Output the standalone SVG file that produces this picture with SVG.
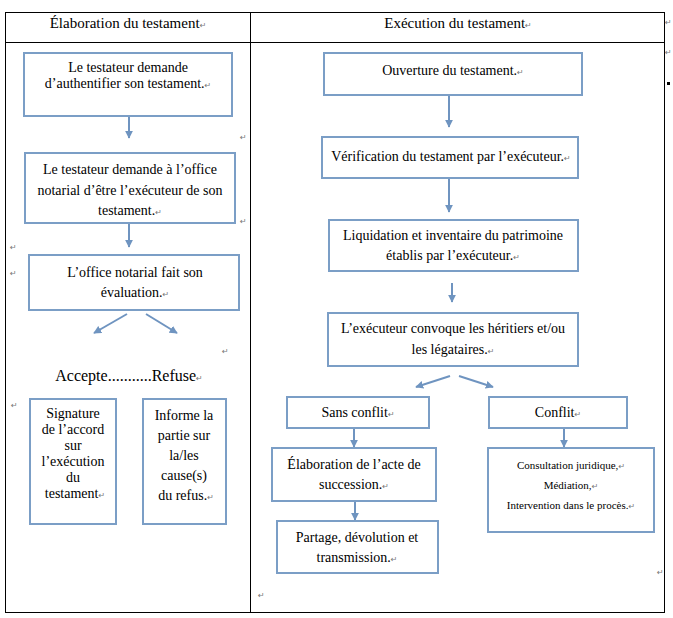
<svg xmlns="http://www.w3.org/2000/svg" width="673" height="618" viewBox="0 0 673 618">
<defs>
<marker id="ah" viewBox="0 0 10 10" refX="9" refY="5" markerWidth="4" markerHeight="4" orient="auto" markerUnits="strokeWidth">
<path d="M0,0 L10,5 L0,10 z" fill="#6f94c0"/>
</marker>
<style>
.t{font-size:14px;fill:#000;text-anchor:middle}
.h{font-size:15px}
.s{font-size:11px}
.b{fill:#fff;stroke:#7b9ec6;stroke-width:2}
.c{stroke:#6f94c0;stroke-width:2;fill:none;marker-end:url(#ah)}
.pm{font-family:"DejaVu Sans",sans-serif;font-size:8px;fill:#777}
.grid{fill:none;stroke:#000;stroke-width:1}
</style>
</defs>
<rect width="673" height="618" fill="#fff"/>
<g font-family="'Liberation Serif', 'Times New Roman', 'DejaVu Serif', serif">
<g id="table">
<rect class="grid" x="5.5" y="12.5" width="659" height="600"/>
<line class="grid" x1="5" y1="42.5" x2="665" y2="42.5"/>
<line class="grid" x1="250.5" y1="12" x2="250.5" y2="613"/>
<text class="t h" x="128" y="28">Élaboration du testament<tspan class="pm">↵</tspan></text>
<text class="t h" x="458" y="28">Exécution du testament<tspan class="pm">↵</tspan></text>
</g>
<g id="marks">
<text class="pm" x="665" y="25">↵</text>
<text class="pm" x="665" y="55">↵</text>
<rect x="667" y="82" width="3" height="3" fill="#000"/>
<text class="pm" x="240" y="140">↵</text>
<text class="pm" x="240" y="224">↵</text>
<text class="pm" x="10" y="250">↵</text>
<text class="pm" x="10" y="276">↵</text>
<text class="pm" x="222" y="354">↵</text>
<text class="pm" x="11" y="408">↵</text>
<text class="pm" x="657" y="575">↵</text>
<text class="pm" x="258" y="598">↵</text>
</g>
<g id="connectors">
<line class="c" x1="129" y1="116" x2="129" y2="138"/>
<line class="c" x1="129" y1="223" x2="129" y2="247"/>
<line class="c" x1="127" y1="314" x2="94" y2="333"/>
<line class="c" x1="146" y1="314" x2="177" y2="333"/>
<line class="c" x1="449" y1="95" x2="449" y2="127"/>
<line class="c" x1="449" y1="178" x2="449" y2="212"/>
<line class="c" x1="452" y1="283" x2="452" y2="302"/>
<line class="c" x1="450" y1="376" x2="416" y2="387"/>
<line class="c" x1="459" y1="376" x2="493" y2="387"/>
<line class="c" x1="354" y1="428" x2="354" y2="447"/>
<line class="c" x1="564" y1="428" x2="564" y2="447"/>
<line class="c" x1="355" y1="501" x2="355" y2="520"/>
</g>
<g id="n1">
<rect class="b" x="24" y="53" width="208" height="63"/>
<text class="t" x="128" y="72">Le testateur demande</text>
<text class="t" x="128" y="88">d’authentifier son testament.<tspan class="pm">↵</tspan></text>
</g>
<g id="n2">
<rect class="b" x="25" y="153" width="210" height="70"/>
<text class="t" x="130" y="174">Le testateur demande à l’office</text>
<text class="t" x="130" y="195">notarial d’être l’exécuteur de son</text>
<text class="t" x="130" y="215">testament.<tspan class="pm">↵</tspan></text>
</g>
<g id="n3">
<rect class="b" x="29" y="255" width="210" height="55"/>
<text class="t" x="135" y="277">L’office notarial fait son</text>
<text class="t" x="135" y="297">évaluation.<tspan class="pm">↵</tspan></text>
</g>
<g id="n4">
<text class="t" x="129" y="381" style="font-size:16px">Accepte...........Refuse<tspan class="pm">↵</tspan></text>
</g>
<g id="n5">
<rect class="b" x="30" y="399" width="86" height="125"/>
<text class="t" x="73" y="418">Signature</text>
<text class="t" x="73" y="434">de l’accord</text>
<text class="t" x="73" y="450">sur</text>
<text class="t" x="73" y="466">l’exécution</text>
<text class="t" x="73" y="482">du</text>
<text class="t" x="75" y="498">testament<tspan class="pm">↵</tspan></text>
</g>
<g id="n6">
<rect class="b" x="143" y="399" width="83" height="125"/>
<text class="t" x="184" y="420">Informe la</text>
<text class="t" x="184" y="440">partie sur</text>
<text class="t" x="184" y="460">la/les</text>
<text class="t" x="184" y="480">cause(s)</text>
<text class="t" x="186" y="500">du refus.<tspan class="pm">↵</tspan></text>
</g>
<g id="r1">
<rect class="b" x="324" y="53" width="258" height="42"/>
<text class="t" x="453" y="75">Ouverture du testament.<tspan class="pm">↵</tspan></text>
</g>
<g id="r2">
<rect class="b" x="322" y="137" width="256" height="41"/>
<text class="t" x="451" y="161">Vérification du testament par l’exécuteur.<tspan class="pm">↵</tspan></text>
</g>
<g id="r3">
<rect class="b" x="329" y="220" width="249" height="51"/>
<text class="t" x="453" y="240">Liquidation et inventaire du patrimoine</text>
<text class="t" x="453" y="260">établis par l’exécuteur.<tspan class="pm">↵</tspan></text>
</g>
<g id="r4">
<rect class="b" x="328" y="313" width="250" height="53"/>
<text class="t" x="453" y="333">L’exécuteur convoque les héritiers et/ou</text>
<text class="t" x="453" y="354">les légataires.<tspan class="pm">↵</tspan></text>
</g>
<g id="r5">
<rect class="b" x="287" y="397" width="142" height="31"/>
<text class="t" x="358" y="417">Sans conflit<tspan class="pm">↵</tspan></text>
</g>
<g id="r6">
<rect class="b" x="489" y="397" width="138" height="31"/>
<text class="t" x="558" y="417">Conflit<tspan class="pm">↵</tspan></text>
</g>
<g id="r7">
<rect class="b" x="272" y="448" width="164" height="53"/>
<text class="t" x="354" y="469">Élaboration de l’acte de</text>
<text class="t" x="354" y="489">succession.<tspan class="pm">↵</tspan></text>
</g>
<g id="r8">
<rect class="b" x="277" y="521" width="161" height="52"/>
<text class="t" x="357" y="542">Partage, dévolution et</text>
<text class="t" x="357" y="562">transmission.<tspan class="pm">↵</tspan></text>
</g>
<g id="r9">
<rect class="b" x="488" y="448" width="166" height="84"/>
<text class="t s" x="571" y="469">Consultation juridique,<tspan class="pm">↵</tspan></text>
<text class="t s" x="571" y="489">Médiation,<tspan class="pm">↵</tspan></text>
<text class="t s" x="571" y="509">Intervention dans le procès.<tspan class="pm">↵</tspan></text>
</g>
</g>
</svg>
